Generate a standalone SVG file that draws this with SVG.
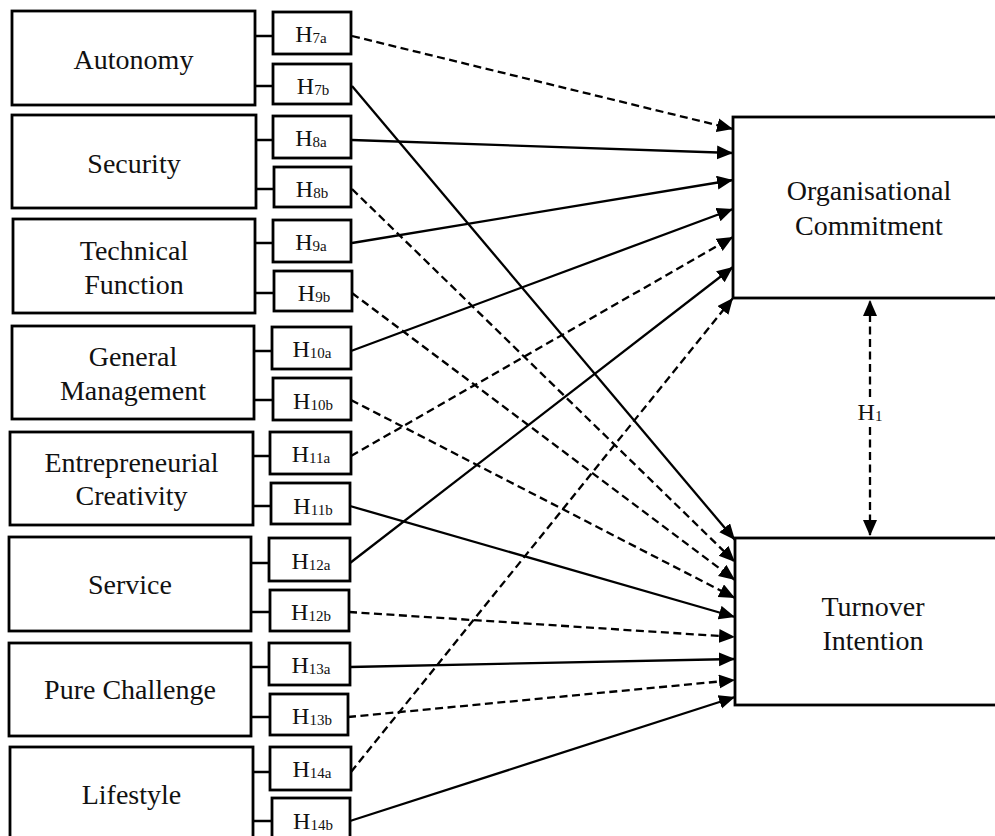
<svg xmlns="http://www.w3.org/2000/svg" width="995" height="836" viewBox="0 0 995 836">
<defs>
<marker id="ah" markerUnits="userSpaceOnUse" markerWidth="18" markerHeight="15" refX="16" refY="7" orient="auto">
<path d="M0,0 L16,7 L0,14 z" fill="#000"/>
</marker>
<style>
rect{fill:#fff;stroke:#000;stroke-width:2.8}
.lbl{font-family:"Liberation Serif","Times New Roman",serif;font-size:28px;fill:#111;text-anchor:middle}
.h{font-family:"Liberation Serif","Times New Roman",serif;font-size:24px;fill:#111;text-anchor:middle}
.sub{font-size:15px}
.tie{stroke:#000;stroke-width:2.6;fill:none}
.s{stroke:#000;stroke-width:2.3;fill:none;marker-end:url(#ah)}
.d{stroke:#000;stroke-width:2.3;fill:none;stroke-dasharray:8 4.5;marker-end:url(#ah)}
</style>
</defs>
<rect width="995" height="836" fill="#fff" style="stroke:none"/>

<g id="connectors">
<path class="tie" d="M255,36H273 M255,86H273 M256,140H273 M256,189H274 M255,243H273 M255,293H274 M254,351H272 M254,400H273 M253,456H270 M253,506H271 M251,563H269 M251,612H270 M251,667H269 M251,717H270 M253,772H270 M253,821H272"/>
<line class="d" x1="352" y1="36" x2="733" y2="129"/>
<line class="s" x1="352" y1="140" x2="733" y2="153"/>
<line class="s" x1="352" y1="243" x2="733" y2="180"/>
<line class="s" x1="351" y1="351" x2="733" y2="209"/>
<line class="d" x1="351" y1="456" x2="733" y2="237"/>
<line class="s" x1="350" y1="563" x2="733" y2="267"/>
<line class="d" x1="351" y1="772" x2="733" y2="298"/>
<line class="s" x1="352" y1="86" x2="735" y2="540"/>
<line class="d" x1="352" y1="189" x2="735" y2="562"/>
<line class="d" x1="352" y1="293" x2="735" y2="580"/>
<line class="d" x1="351" y1="400" x2="735" y2="598"/>
<line class="s" x1="350" y1="506" x2="735" y2="617"/>
<line class="d" x1="349" y1="612" x2="735" y2="637"/>
<line class="s" x1="350" y1="667" x2="735" y2="659"/>
<line class="d" x1="348" y1="717" x2="735" y2="680"/>
<line class="s" x1="350" y1="821" x2="735" y2="697"/>
<line class="d" x1="870" y1="397" x2="870" y2="300"/>
<line class="d" x1="870" y1="427" x2="870" y2="536"/>
<text class="h" x="870" y="420">H<tspan class="sub" dy="1">1</tspan></text>
</g>

<g id="autonomy"><rect x="12" y="11" width="243" height="94"/><text class="lbl" x="133.5" y="69">Autonomy</text></g>
<g id="security"><rect x="12" y="115" width="244" height="93"/><text class="lbl" x="134" y="173">Security</text></g>
<g id="technical"><rect x="13" y="219" width="242" height="94"/><text class="lbl" x="134" y="260">Technical</text><text class="lbl" x="134" y="294">Function</text></g>
<g id="general"><rect x="12" y="326" width="242" height="93"/><text class="lbl" x="133" y="366">General</text><text class="lbl" x="133" y="400">Management</text></g>
<g id="entrepreneurial"><rect x="10" y="432" width="243" height="93"/><text class="lbl" x="131.5" y="472">Entrepreneurial</text><text class="lbl" x="131.5" y="505">Creativity</text></g>
<g id="service"><rect x="9" y="537" width="242" height="94"/><text class="lbl" x="130" y="594">Service</text></g>
<g id="pure-challenge"><rect x="9" y="643" width="242" height="93"/><text class="lbl" x="130" y="699">Pure Challenge</text></g>
<g id="lifestyle"><rect x="10" y="747" width="243" height="96"/><text class="lbl" x="131.5" y="804">Lifestyle</text></g>

<g id="h7a"><rect x="273" y="12" width="78" height="42"/><text class="h" x="311" y="42">H<tspan class="sub" dy="1">7a</tspan></text></g>
<g id="h7b"><rect x="273" y="64" width="78" height="40"/><text class="h" x="313" y="94">H<tspan class="sub" dy="1">7b</tspan></text></g>
<g id="h8a"><rect x="273" y="116" width="78" height="42"/><text class="h" x="311" y="146">H<tspan class="sub" dy="1">8a</tspan></text></g>
<g id="h8b"><rect x="274" y="167" width="77" height="40"/><text class="h" x="312" y="197">H<tspan class="sub" dy="1">8b</tspan></text></g>
<g id="h9a"><rect x="273" y="220" width="78" height="42"/><text class="h" x="311" y="250">H<tspan class="sub" dy="1">9a</tspan></text></g>
<g id="h9b"><rect x="274" y="271" width="78" height="40"/><text class="h" x="314" y="301">H<tspan class="sub" dy="1">9b</tspan></text></g>
<g id="h10a"><rect x="272" y="327" width="79" height="42"/><text class="h" x="312" y="357">H<tspan class="sub" dy="1">10a</tspan></text></g>
<g id="h10b"><rect x="273" y="378" width="78" height="42"/><text class="h" x="313" y="409">H<tspan class="sub" dy="1">10b</tspan></text></g>
<g id="h11a"><rect x="270" y="432" width="81" height="42"/><text class="h" x="311" y="462">H<tspan class="sub" dy="1">11a</tspan></text></g>
<g id="h11b"><rect x="271" y="483" width="79" height="41"/><text class="h" x="313" y="514">H<tspan class="sub" dy="1">11b</tspan></text></g>
<g id="h12a"><rect x="269" y="538" width="81" height="43"/><text class="h" x="311" y="569">H<tspan class="sub" dy="1">12a</tspan></text></g>
<g id="h12b"><rect x="270" y="590" width="79" height="41"/><text class="h" x="311" y="620">H<tspan class="sub" dy="1">12b</tspan></text></g>
<g id="h13a"><rect x="269" y="643" width="81" height="42"/><text class="h" x="311" y="673">H<tspan class="sub" dy="1">13a</tspan></text></g>
<g id="h13b"><rect x="270" y="694" width="78" height="41"/><text class="h" x="312" y="724">H<tspan class="sub" dy="1">13b</tspan></text></g>
<g id="h14a"><rect x="270" y="747" width="81" height="43"/><text class="h" x="312" y="777">H<tspan class="sub" dy="1">14a</tspan></text></g>
<g id="h14b"><rect x="272" y="798" width="78" height="44"/><text class="h" x="313" y="829">H<tspan class="sub" dy="1">14b</tspan></text></g>

<g id="org-commitment"><rect x="733" y="117" width="280" height="181"/><text class="lbl" x="869" y="200">Organisational</text><text class="lbl" x="869" y="235">Commitment</text></g>
<g id="turnover"><rect x="735" y="538" width="280" height="167"/><text class="lbl" x="873" y="616">Turnover</text><text class="lbl" x="873" y="650">Intention</text></g>
</svg>
